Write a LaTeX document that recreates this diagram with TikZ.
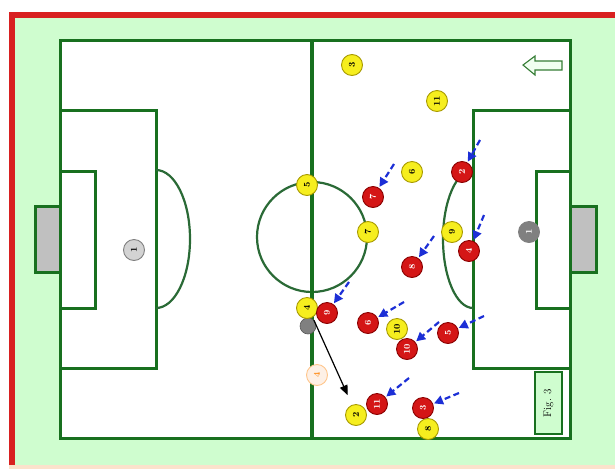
\documentclass[tikz,border=0pt]{standalone}
\usetikzlibrary{arrows.meta}
\definecolor{pitchgreen}{HTML}{18701F}
\definecolor{arcgreen}{HTML}{2A6A36}
\definecolor{bggreen}{HTML}{CFFDCF}
\definecolor{borderred}{HTML}{D82020}
\definecolor{peach}{HTML}{FBE2CC}
\definecolor{ballyel}{HTML}{F6EE1E}
\definecolor{yeledge}{HTML}{A89A00}
\definecolor{ballred}{HTML}{D41616}
\definecolor{rededge}{HTML}{8A0000}
\definecolor{goalgrey}{HTML}{C0C0C0}
\definecolor{arrowblue}{HTML}{1C2FD6}
\begin{document}
\begin{tikzpicture}[x=1pt,y=-1pt,
  pline/.style={draw=pitchgreen, line width=3},
  aline/.style={draw=arcgreen, line width=2.2},
  player/.style={circle, line width=0.9, minimum size=21, inner sep=0,
    font=\fontsize{9}{9}\selectfont\bfseries, rotate=90},
  yel/.style={player, fill=ballyel, draw=yeledge, text=black},
  redp/.style={player, fill=ballred, draw=rededge, text=white},
  keeper/.style={player, fill=goalgrey!70, draw=gray, text=black},
  ghost/.style={player, fill=peach!50, draw=orange!45, text=orange!85},
  gball/.style={circle, fill=gray, draw=gray!70!black, line width=0.6, minimum size=16, inner sep=0},
  barrow/.style={draw=arrowblue, line width=2.2, dash pattern=on 6pt off 3.5pt,
    -{Triangle[length=9,width=9]}, shorten >=1},
  karrow/.style={draw=black, line width=1.2, -{Triangle[length=10,width=8]}, shorten >=3}
]
\useasboundingbox (0,0) rectangle (615,469);
% background
\fill[white] (0,0) rectangle (615,469);
\fill[bggreen] (9,12) rectangle (615,465);
\fill[peach] (9,465) rectangle (615,469);
\fill[borderred] (9,12) rectangle (15,465);
\fill[borderred] (9,12) rectangle (615,18);
% pitch
\filldraw[fill=white, pline] (60,40) rectangle (570,438);
% goals
\filldraw[fill=goalgrey, pline] (35,206) rectangle (60,272);
\filldraw[fill=goalgrey, pline] (570,206) rectangle (596,272);
% boxes
\draw[pline] (60,110) rectangle (156,368);
\draw[pline] (60,171) rectangle (95,308);
\draw[pline] (473,110) rectangle (570,368);
\draw[pline] (536,171) rectangle (570,308);
% arcs and circle
\draw[aline] (156,170) arc[start angle=-90, end angle=90, x radius=34, y radius=69];
\draw[aline] (473,170) arc[start angle=-90, end angle=-270, x radius=30, y radius=69];
\draw[aline] (312,237) circle[radius=55];
% midline
\draw[draw=pitchgreen, line width=3.8] (312,40) -- (312,438);
% direction arrow
\filldraw[fill=green!6, draw=gray!60!green!70!black, line width=1.1]
  (523,65) -- (535,56) -- (535,61) -- (562,61) -- (562,70) -- (535,70) -- (535,75) -- cycle;
% fig box
\filldraw[fill=bggreen, pline, line width=1.8] (535,372) rectangle (562,434);
\node[rotate=90, font=\fontsize{11}{11}\selectfont] (fig) at (548.5,403) {Fig. 3};
% keepers
\node[keeper] (k1) at (134,250) {1};
\node[keeper, fill=gray, text=white] (k2) at (529,232) {1};
% ghost and ball
\node[ghost] (g4) at (317,375) {4};
\node[gball] (ball) at (308,326) {};
% yellow players
\node[yel] (y3) at (352,65) {3};
\node[yel] (y11) at (437,101) {11};
\node[yel] (y6) at (412,172) {6};
\node[yel] (y5) at (307,185) {5};
\node[yel] (y7) at (368,232) {7};
\node[yel] (y9) at (452,232) {9};
\node[yel] (y4) at (307,308) {4};
\node[yel] (y10) at (397,329) {10};
\node[yel] (y2) at (356,415) {2};
\node[yel] (y8) at (428,429) {8};
% red players
\node[redp] (r7) at (373,197) {7};
\node[redp] (r2) at (462,172) {2};
\node[redp] (r4) at (469,251) {4};
\node[redp] (r8) at (412,267) {8};
\node[redp] (r9) at (327,313) {9};
\node[redp] (r6) at (368,323) {6};
\node[redp] (r10) at (407,349) {10};
\node[redp] (r5) at (448,333) {5};
\node[redp] (r11) at (377,404) {11};
\node[redp] (r3) at (423,408) {3};
% arrow starts
\coordinate (a7) at (394,164);
\coordinate (a2) at (480,140);
\coordinate (a4) at (484,215);
\coordinate (a8) at (434,236);
\coordinate (a9) at (349,282);
\coordinate (a6) at (404,302);
\coordinate (a10) at (439,322);
\coordinate (a5) at (484,316);
\coordinate (a11) at (409,378);
\coordinate (a3) at (459,393);
\coordinate (kend) at (349,398);
% blue arrows
\draw[barrow] (a7) -- (r7);
\draw[barrow] (a2) -- (r2);
\draw[barrow] (a4) -- (r4);
\draw[barrow] (a8) -- (r8);
\draw[barrow] (a9) -- (r9);
\draw[barrow] (a6) -- (r6);
\draw[barrow] (a10) -- (r10);
\draw[barrow] (a5) -- (r5);
\draw[barrow] (a11) -- (r11);
\draw[barrow] (a3) -- (r3);
% pass
\draw[karrow] (ball.north east) -- (kend);
\end{tikzpicture}
\end{document}
